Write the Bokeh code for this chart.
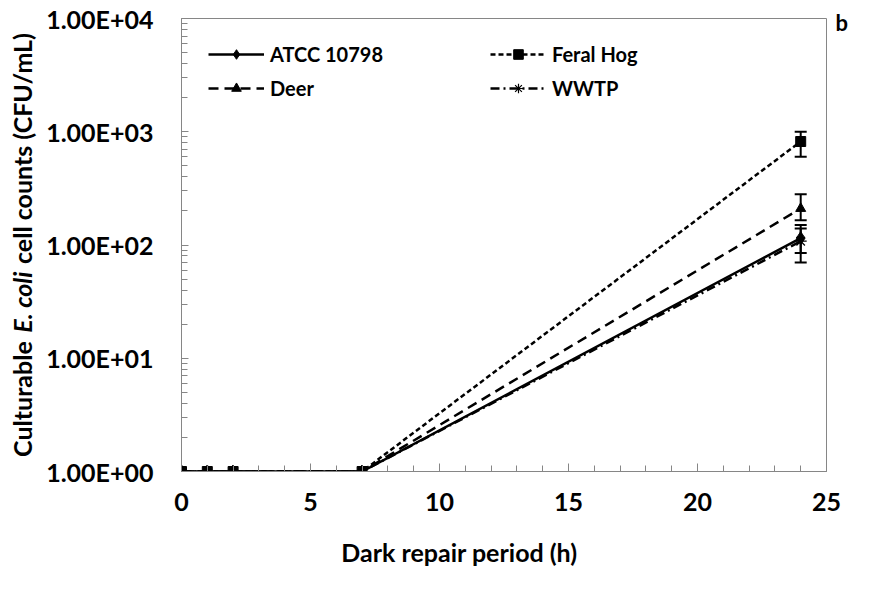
import math
from bokeh.plotting import figure
from bokeh.models import (Range1d, FixedTicker, CustomJSTickFormatter, Legend, LegendItem,
                          Whisker, ColumnDataSource, Label, TeeHead)
from bokeh.embed import file_html
from bokeh.resources import INLINE

# ---------------- data ----------------
hours = [0, 1, 2, 7, 24]
atcc = [1, 1, 1, 1, 115]
feral_hog = [1, 1, 1, 1, 820]
deer = [1, 1, 1, 1, 210]
wwtp = [1, 1, 1, 1, 108]

err_hours = [24]
atcc_lo, atcc_hi = [70], [150]
feral_lo, feral_hi = [600], [1000]
deer_lo, deer_hi = [165], [280]
wwtp_lo, wwtp_hi = [85], [140]

x_ticks = [0, 5, 10, 15, 20, 25]
x_minor = list(range(0, 26))
y_ticks = [1, 10, 100, 1000, 10000]
y_minor = [m * 10 ** e for e in range(0, 4) for m in range(2, 10)]

y_title = "Culturable E. coli cell counts (CFU/mL)"
species = "E. coli"
x_title = "Dark repair period (h)"
panel_tag = "b"

FONT = "Lato"
GREY = "#868686"

p = figure(width=869, height=595, x_range=Range1d(0, 25), y_range=Range1d(1, 10000),
           y_axis_type="log", output_backend="svg", toolbar_location=None,
           min_border_left=181, min_border_right=43, min_border_top=18, min_border_bottom=124)
p.background_fill_color = "white"
p.border_fill_color = "white"
p.outline_line_color = GREY
p.outline_line_width = 1
p.xgrid.grid_line_color = None
p.ygrid.grid_line_color = None

xa = p.xaxis[0]
ya = p.yaxis[0]
xa.ticker = FixedTicker(ticks=x_ticks, minor_ticks=x_minor)
ya.ticker = FixedTicker(ticks=y_ticks, minor_ticks=y_minor)
for ax in (xa, ya):
    ax.axis_line_color = GREY
    ax.major_tick_line_color = GREY
    ax.minor_tick_line_color = GREY
    ax.major_tick_out = 0
    ax.minor_tick_out = 0
    ax.major_label_text_font = FONT
    ax.major_label_text_font_style = "bold"
    ax.major_label_text_font_size = "25px"
    ax.major_label_text_color = "black"
xa.major_tick_in = 8
xa.minor_tick_in = 6
xa.major_label_standoff = 21
ya.major_tick_in = 7
ya.minor_tick_in = 6
ya.major_label_standoff = 28
ya.formatter = CustomJSTickFormatter(code="""
const e = Math.round(Math.log10(tick));
const m = tick / Math.pow(10, e);
const s = e < 0 ? "-" : "+";
return m.toFixed(2) + "E" + s + String(Math.abs(e)).padStart(2, "0");
""")

# ---------------- series ----------------
src = ColumnDataSource(dict(h=hours, atcc=atcc, feral=feral_hog, deer=deer, wwtp=wwtp))

l_atcc = p.line("h", "atcc", source=src, line_color="black", line_width=2.5)
m_atcc = p.scatter("h", "atcc", source=src, marker="diamond", size=13, color="black")

l_deer = p.line("h", "deer", source=src, line_color="black", line_width=2.5, line_dash="10 6")
m_deer = p.scatter("h", "deer", source=src, marker="triangle", size=10, color="black")

l_wwtp = p.line("h", "wwtp", source=src, line_color="black", line_width=2.5, line_dash="9 4 2 4")
m_wwtp = p.scatter("h", "wwtp", source=src, marker="asterisk", size=12, line_color="black", line_width=1.2)

l_feral = p.line("h", "feral", source=src, line_color="black", line_width=2.5, line_dash="5 3")
m_feral = p.scatter("h", "feral", source=src, marker="square", size=10, color="black")

for lo, hi in ((atcc_lo, atcc_hi), (feral_lo, feral_hi), (deer_lo, deer_hi), (wwtp_lo, wwtp_hi)):
    es = ColumnDataSource(dict(x=err_hours, lo=lo, hi=hi))
    w = Whisker(base="x", lower="lo", upper="hi", source=es, line_color="black", line_width=2,
                upper_head=TeeHead(size=12, line_color="black", line_width=2),
                lower_head=TeeHead(size=12, line_color="black", line_width=2))
    p.add_layout(w)

# ---------------- legends ----------------
def make_legend(items, loc):
    lg = Legend(items=items, location=loc, orientation="vertical")
    lg.label_text_font = FONT
    lg.label_text_font_style = "bold"
    lg.label_text_font_size = "20px"
    lg.label_text_color = "black"
    lg.border_line_color = None
    lg.background_fill_alpha = 0
    lg.margin = 0
    lg.padding = 0
    lg.glyph_width = 56
    lg.glyph_height = 24
    lg.label_height = 24
    lg.spacing = 10
    lg.label_standoff = 6
    return lg

leg1 = make_legend([LegendItem(label="ATCC 10798", renderers=[l_atcc, m_atcc]),
                    LegendItem(label="Deer", renderers=[l_deer, m_deer])], (27, 371))
leg2 = make_legend([LegendItem(label="Feral Hog", renderers=[l_feral, m_feral]),
                    LegendItem(label="WWTP", renderers=[l_wwtp, m_wwtp])], (309, 371))
p.add_layout(leg1)
p.add_layout(leg2)

# ---------------- titles (in side panels so they are not clipped to the frame) ----------------
fs = 25
frame_mid = (18 + 471) / 2
total_em, before_em, species_em = 17.0, 4.88, 2.67
start = frame_mid + total_em * fs / 2
species_mid = start - (before_em + species_em / 2) * fs

p.add_layout(Label(x=21, y=frame_mid, x_units="canvas", y_units="canvas", text=y_title,
                   angle=math.pi / 2, text_align="center", text_baseline="middle",
                   text_font=FONT, text_font_style="bold", text_font_size=f"{fs}px",
                   text_color="black"), "left")
# italic species name laid over the plain one
p.add_layout(Label(x=21, y=species_mid, x_units="canvas", y_units="canvas", text=species,
                   angle=math.pi / 2, text_align="center", text_baseline="middle",
                   text_font=FONT, text_font_style="bold italic", text_font_size=f"{fs}px",
                   text_color="black", background_fill_color="white", padding=4), "right")

p.add_layout(Label(x=459, y=551, x_units="canvas", y_units="canvas", text=x_title,
                   text_align="center", text_baseline="middle", text_font=FONT,
                   text_font_style="bold", text_font_size=f"{fs}px", text_color="black"), "below")

p.add_layout(Label(x=835, y=22, x_units="canvas", y_units="canvas", text=panel_tag,
                   text_align="left", text_baseline="middle", text_font=FONT,
                   text_font_style="bold", text_font_size="22px", text_color="black"), "below")

open("out.html", "w").write(file_html(p, INLINE))
